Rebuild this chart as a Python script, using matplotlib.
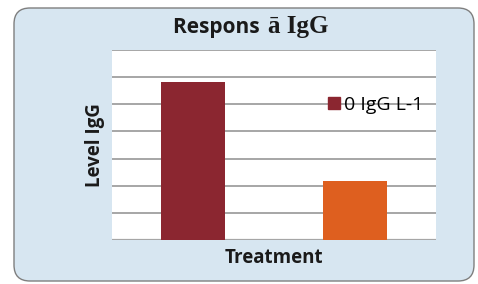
import matplotlib.pyplot as plt
from matplotlib.patches import FancyBboxPatch, Rectangle

# data
treatments = ['0 IgG L-1', 'other']
levels = [5.83, 2.18]
bar_colors = ['#8b2630', '#de5f1f']
n_grid = 7

W, H = 478, 284
fig = plt.figure(figsize=(W/100, H/100), dpi=100)
fig.patch.set_facecolor('white')

# background axes in pixel units for the rounded card
bg = fig.add_axes([0, 0, 1, 1], zorder=-1)
bg.set_xlim(0, W)
bg.set_ylim(H, 0)
bg.axis('off')
bg.add_patch(FancyBboxPatch((14, 8), 460, 273,
                            boxstyle='round,pad=0,rounding_size=16',
                            facecolor='#d7e6f1', edgecolor='#7f7f7f', linewidth=1.0))

ax = fig.add_axes([112/W, (H-240)/H, 324/W, 190/H])
ax.set_facecolor('white')
x = [0, 1]
ax.bar(x, levels, width=0.4, color=bar_colors, zorder=3)
ax.set_xlim(-0.5, 1.5)
ax.set_ylim(0, n_grid)
ax.set_yticks(range(n_grid + 1))
ax.yaxis.grid(True, color='#a6a6a6', linewidth=1.4, zorder=1)
ax.tick_params(left=False, bottom=False, labelleft=False, labelbottom=False)
for s in ax.spines.values():
    s.set_visible(False)
ax.axhline(0, color='#a6a6a6', linewidth=1.6, zorder=2)

# legend, drawn over gridline like in the reference
ax.legend([Rectangle((0, 0), 1, 1, color=bar_colors[0])], [treatments[0]],
          loc='center left', bbox_to_anchor=(0.667, 0.71), frameon=False,
          handlelength=0.6, handleheight=0.6, handletextpad=0.2,
          borderpad=0, borderaxespad=0,
          prop={'family': 'Open Sans', 'size': 14})

# title in mixed fonts
fig.text(265/W, 1-27/H, 'Respons ', ha='right', va='center',
         fontsize=15, fontweight='bold', family='Open Sans', color='#1a1a1a')
fig.text(268/W, 1-27/H, 'ā IgG', ha='left', va='center',
         fontsize=18, fontweight='bold', family='Liberation Serif', color='#1a1a1a')

fig.text(95/W, 1-145/H, 'Level IgG', rotation=90, ha='center', va='center',
         fontsize=13.5, fontweight='bold', family='Open Sans', color='#1a1a1a')
fig.text(274/W, 1-258/H, 'Treatment', ha='center', va='center',
         fontsize=13.5, fontweight='bold', family='Open Sans', color='#1a1a1a')

fig.savefig('out.png', dpi=100)
